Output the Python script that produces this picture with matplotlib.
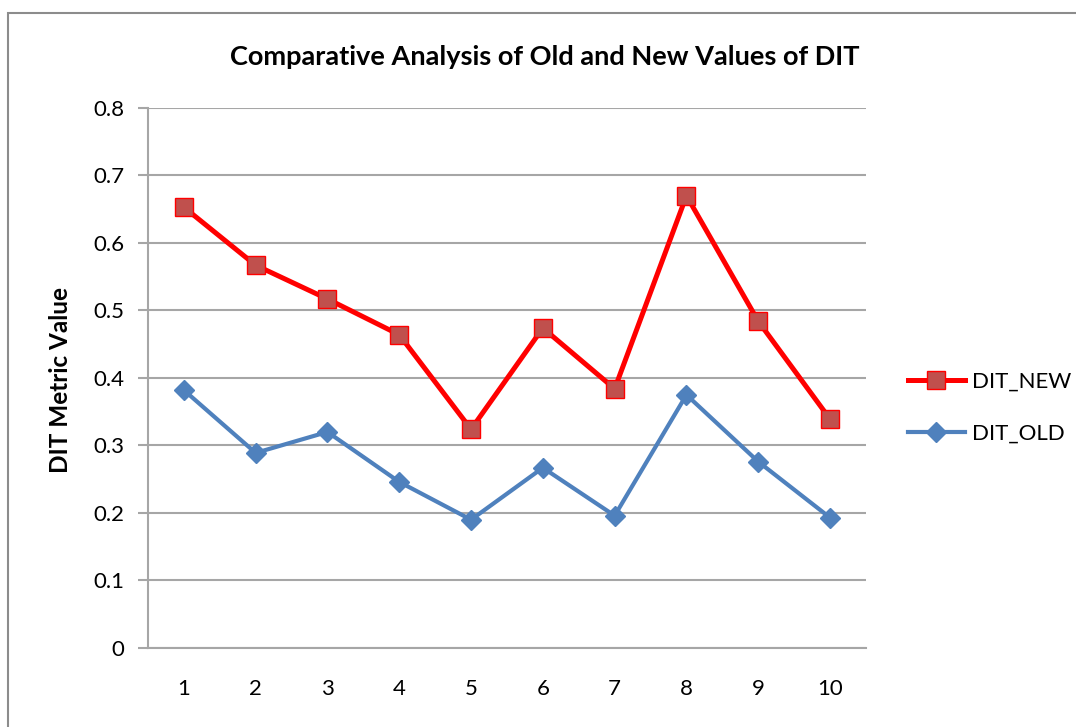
import matplotlib.pyplot as plt
from matplotlib.patches import Rectangle

plt.rcParams['font.family'] = ['Lato', 'DejaVu Sans']

categories = ['1', '2', '3', '4', '5', '6', '7', '8', '9', '10']
dit_new = [0.653, 0.567, 0.517, 0.464, 0.324, 0.474, 0.384, 0.670, 0.484, 0.339]
dit_old = [0.382, 0.289, 0.320, 0.246, 0.190, 0.267, 0.196, 0.375, 0.276, 0.193]
y_ticks = [0, 0.1, 0.2, 0.3, 0.4, 0.5, 0.6, 0.7, 0.8]

fig = plt.figure(figsize=(10.76, 7.27), dpi=100)
ax = fig.add_axes([0.1375, 0.1087, 0.6673, 0.7428])

# outer chart frame (cut off on right and bottom in the original)
fig.patches.append(Rectangle((8 / 1076, -0.1), 1.2, (727 - 13) / 727 + 0.1,
                             transform=fig.transFigure, fill=False,
                             edgecolor='#8c8c8c', linewidth=1.5))

x = list(range(1, len(categories) + 1))
ax.plot(x, dit_new, color='#ff0000', linewidth=3.6, marker='s', markersize=13,
        markerfacecolor='#c0504d', markeredgecolor='#ff0000', markeredgewidth=1,
        label='DIT_NEW', zorder=3)
ax.plot(x, dit_old, color='#4f81bd', linewidth=3.0, marker='D', markersize=10,
        markerfacecolor='#4f81bd', markeredgecolor='#4f81bd',
        label='DIT_OLD', zorder=3)

ax.set_xlim(0.5, 10.5)
ax.set_ylim(0, 0.8)
ax.set_xticks(x)
ax.set_xticklabels(categories)
ax.set_yticks(y_ticks)
ax.set_yticklabels(['0', '0.1', '0.2', '0.3', '0.4', '0.5', '0.6', '0.7', '0.8'])
ax.yaxis.grid(True, color='#a6a6a6', linewidth=1.5)
ax.set_axisbelow(True)

for s in ['top', 'right']:
    ax.spines[s].set_visible(False)
for s in ['left', 'bottom']:
    ax.spines[s].set_color('#a6a6a6')
    ax.spines[s].set_linewidth(1.5)

ax.tick_params(axis='y', length=7, width=1.5, color='#a6a6a6', labelsize=16, pad=10)
ax.tick_params(axis='x', length=0, labelsize=16, pad=22)

fig.text(60 / 1076, 1 - 380 / 727, 'DIT Metric Value', rotation=90,
         ha='center', va='center', fontsize=17.5, fontweight='bold')
fig.text(545 / 1076, 1 - 57 / 727,
         'Comparative Analysis of Old and New Values of DIT',
         ha='center', va='center', fontsize=19.5, fontweight='bold')

ax.legend(loc='center left', bbox_to_anchor=(1.03, 0.445), frameon=False,
          fontsize=16, handlelength=2.6, labelspacing=1.45, handletextpad=0.3)

fig.savefig('out.png', dpi=100)
